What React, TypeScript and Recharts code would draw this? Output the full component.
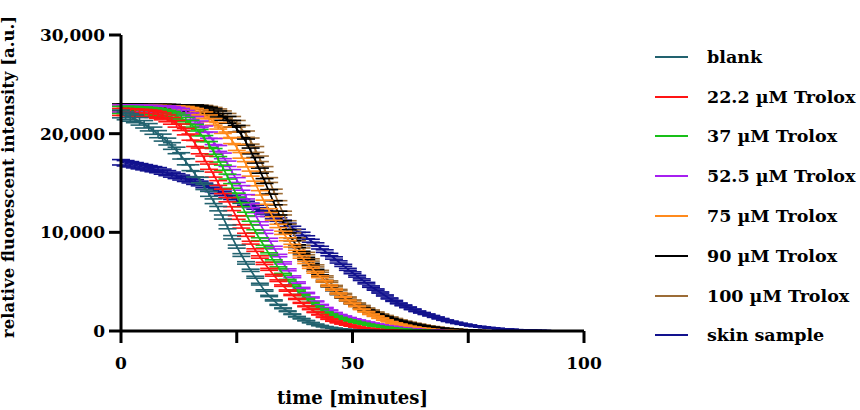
import React from 'react';
import { LineChart, Line, XAxis, YAxis, ErrorBar } from 'recharts';

const minutes = [
  0, 1, 2, 3, 4, 5, 6, 7, 8, 9, 10, 11, 12, 13, 14, 15, 16, 17, 18, 19,
  20, 21, 22, 23, 24, 25, 26, 27, 28, 29, 30, 31, 32, 33, 34, 35, 36, 37, 38, 39,
  40, 41, 42, 43, 44, 45, 46, 47, 48, 49, 50, 51, 52, 53, 54, 55, 56, 57, 58, 59,
  60, 61, 62, 63, 64, 65, 66, 67, 68, 69, 70, 71, 72, 73, 74, 75, 76, 77, 78, 79,
  80, 81, 82, 83, 84, 85, 86, 87, 88, 89, 90, 91, 92, 93, 94, 95, 96, 97, 98, 99, 100,
];

const blank = [
  22000, 21800, 21650, 21500, 21250, 20950, 20650, 20300, 19950, 19600,
  19200, 18750, 18300, 17750, 17150, 16550, 15900, 15300, 14600, 13900,
  13150, 12400, 11550, 10550, 9500, 8550, 7700, 6900, 6150, 5450,
  4750, 4100, 3550, 3100, 2650, 2300, 2000, 1700, 1450, 1250,
  1050, 850, 680, 550, 440, 350, 280, 220, 170, 130,
  100, 80, 60, 45, 35, 25, 15, 10, 5, 0,
  0, 0, 0, 0, 0, 0, 0, 0, 0, 0,
  0, 0, 0, 0, 0, 0, 0, 0, 0, 0,
  0, 0, 0, 0, 0, 0, 0, 0, 0, 0,
  0, 0, 0, 0, 0, 0, 0, 0, 0, 0, 0,
];

const trolox22 = [
  22200, 22200, 22150, 22150, 22100, 22100, 22050, 22000, 21900, 21750,
  21550, 21300, 21000, 20650, 20200, 19650, 19000, 18250, 17450, 16650,
  15850, 15000, 14150, 13300, 12400, 11500, 10600, 9750, 8950, 8200,
  7500, 6850, 6250, 5650, 5100, 4600, 4100, 3650, 3250, 2850,
  2500, 2200, 1900, 1650, 1400, 1200, 1000, 850, 720, 600,
  500, 400, 320, 260, 200, 150, 110, 80, 60, 40,
  30, 20, 10, 5, 0, 0, 0, 0, 0, 0,
  0, 0, 0, 0, 0, 0, 0, 0, 0, 0,
  0, 0, 0, 0, 0, 0, 0, 0, 0, 0,
  0, 0, 0, 0, 0, 0, 0, 0, 0, 0, 0,
];

const trolox37 = [
  22400, 22400, 22400, 22400, 22350, 22350, 22300, 22250, 22200, 22100,
  22000, 21900, 21750, 21550, 21300, 21000, 20600, 20100, 19500, 18900,
  18200, 17400, 16550, 15650, 14700, 13750, 12800, 11850, 10950, 10100,
  9300, 8550, 7800, 7100, 6400, 5750, 5150, 4600, 4100, 3650,
  3250, 2850, 2500, 2200, 1900, 1700, 1500, 1350, 1200, 1100,
  980, 870, 770, 680, 590, 510, 440, 370, 310, 260,
  210, 170, 130, 100, 75, 55, 40, 25, 15, 8,
  0, 0, 0, 0, 0, 0, 0, 0, 0, 0,
  0, 0, 0, 0, 0, 0, 0, 0, 0, 0,
  0, 0, 0, 0, 0, 0, 0, 0, 0, 0, 0,
];

const trolox52 = [
  22550, 22550, 22550, 22550, 22500, 22500, 22500, 22500, 22450, 22450,
  22450, 22400, 22300, 22200, 22000, 21750, 21400, 20950, 20450, 19850,
  19200, 18500, 17750, 16950, 16100, 15300, 14500, 13600, 12700, 11800,
  10900, 10050, 9250, 8450, 7650, 6900, 6200, 5500, 4900, 4350,
  3850, 3400, 3000, 2650, 2350, 2100, 1850, 1650, 1500, 1350,
  1220, 1100, 990, 890, 790, 700, 610, 530, 460, 390,
  330, 280, 230, 190, 150, 120, 90, 70, 50, 35,
  25, 15, 10, 5, 0, 0, 0, 0, 0, 0,
  0, 0, 0, 0, 0, 0, 0, 0, 0, 0,
  0, 0, 0, 0, 0, 0, 0, 0, 0, 0, 0,
];

const trolox75 = [
  22550, 22550, 22550, 22550, 22550, 22500, 22500, 22500, 22500, 22500,
  22450, 22450, 22450, 22400, 22400, 22300, 22200, 22050, 21850, 21550,
  21200, 20800, 20350, 19850, 19300, 18600, 17800, 16900, 15950, 14950,
  14000, 13050, 12200, 11400, 10650, 9950, 9300, 8650, 8050, 7500,
  6950, 6450, 5950, 5500, 5050, 4600, 4200, 3800, 3450, 3100,
  2800, 2500, 2200, 1950, 1700, 1500, 1300, 1100, 950, 800,
  680, 570, 470, 390, 320, 260, 210, 160, 120, 90,
  70, 50, 35, 25, 15, 10, 5, 0, 0, 0,
  0, 0, 0, 0, 0, 0, 0, 0, 0, 0,
  0, 0, 0, 0, 0, 0, 0, 0, 0, 0, 0,
];

const trolox90 = [
  22650, 22650, 22650, 22650, 22650, 22600, 22600, 22600, 22600, 22600,
  22600, 22600, 22550, 22550, 22550, 22550, 22550, 22500, 22400, 22300,
  22150, 21950, 21700, 21400, 21000, 20500, 19900, 19150, 18250, 17300,
  16250, 15200, 14100, 13000, 11950, 11000, 10100, 9300, 8600, 7950,
  7350, 6750, 6150, 5600, 5050, 4550, 4150, 3750, 3400, 3100,
  2800, 2550, 2300, 2100, 1900, 1700, 1550, 1400, 1250, 1100,
  980, 870, 770, 680, 590, 510, 440, 380, 320, 270,
  220, 180, 150, 120, 90, 70, 50, 35, 25, 15,
  10, 5, 0, 0, 0, 0, 0, 0, 0, 0,
  0, 0, 0, 0, 0, 0, 0, 0, 0, 0, 0,
];

const trolox100 = [
  22600, 22600, 22600, 22600, 22600, 22600, 22600, 22600, 22600, 22600,
  22600, 22550, 22550, 22550, 22550, 22550, 22550, 22500, 22500, 22400,
  22300, 22150, 21950, 21700, 21400, 21000, 20500, 19950, 19250, 18400,
  17450, 16400, 15300, 14150, 13000, 11950, 11000, 10100, 9300, 8550,
  7850, 7200, 6600, 6050, 5500, 5000, 4550, 4150, 3750, 3400,
  3100, 2800, 2550, 2300, 2100, 1900, 1700, 1550, 1400, 1250,
  1100, 980, 870, 770, 680, 590, 510, 440, 380, 320,
  270, 220, 180, 150, 120, 90, 70, 50, 35, 25,
  15, 10, 5, 0, 0, 0, 0, 0, 0, 0,
  0, 0, 0, 0, 0, 0, 0, 0, 0, 0, 0,
];

const skinSample = [
  17100, 17000, 16900, 16800, 16700, 16600, 16500, 16400, 16300, 16150,
  16000, 15850, 15700, 15550, 15400, 15250, 15100, 14950, 14750, 14550,
  14350, 14150, 13950, 13750, 13550, 13350, 13150, 12950, 12750, 12550,
  12300, 12050, 11800, 11550, 11300, 11050, 10750, 10450, 10150, 9850,
  9500, 9150, 8800, 8450, 8100, 7750, 7400, 7000, 6650, 6250,
  5900, 5550, 5200, 4850, 4500, 4200, 3900, 3600, 3300, 3050,
  2800, 2600, 2400, 2200, 2000, 1850, 1700, 1550, 1400, 1250,
  1100, 980, 870, 770, 680, 600, 520, 460, 400, 350,
  300, 260, 220, 190, 160, 130, 110, 90, 75, 60,
  50, 40, 30, 25, 20, 15, 10, 8, 5, 3, 0,
];

const seriesKeys = ['blank', 't22', 't37', 't52', 't75', 't90', 't100', 'skin'];
const seriesNames = [
  'blank',
  '22.2 \u00b5M Trolox',
  '37 \u00b5M Trolox',
  '52.5 \u00b5M Trolox',
  '75 \u00b5M Trolox',
  '90 \u00b5M Trolox',
  '100 \u00b5M Trolox',
  'skin sample',
];
const seriesColors = ['#22626f', '#ff1414', '#18bf18', '#a61ff0', '#ff8a1c', '#000000', '#9c6c36', '#12128e'];
const seriesValues = [blank, trolox22, trolox37, trolox52, trolox75, trolox90, trolox100, skinSample];
// relative standard deviation of each series (error bars)
const seriesRSD = [0.018, 0.016, 0.016, 0.016, 0.016, 0.016, 0.016, 0.016];

const xTicks = [0, 25, 50, 75, 100];
const xLabelled = [0, 50, 100];
const yTicks = [0, 10000, 20000, 30000];

const rows = minutes.map((t, i) => {
  const r: Record<string, number> = { t };
  seriesKeys.forEach((k, j) => {
    r[k] = seriesValues[j][i];
    r[k + 'Err'] = Math.round(seriesValues[j][i] * seriesRSD[j]);
  });
  return r;
});

const FONT = '"DejaVu Serif", serif';

export default function App() {
  const drawOrder = seriesKeys.map((_, i) => i).reverse();
  return (
    <div style={{ position: 'absolute', left: 0, top: 0, width: 860, height: 410, background: '#fff', fontFamily: FONT }}>
      <LineChart
        width={860}
        height={410}
        data={rows}
        margin={{ top: 35, right: 276, bottom: 0, left: 0 }}
      >
        <XAxis
          dataKey="t"
          type="number"
          domain={[0, 100]}
          ticks={xTicks}
          interval={0}
          tickFormatter={(v: number) => (xLabelled.includes(v) ? String(v) : '')}
          height={79}
          tickSize={12}
          tickMargin={14}
          axisLine={{ stroke: '#000', strokeWidth: 3 }}
          tickLine={{ stroke: '#000', strokeWidth: 3 }}
          tick={{ fill: '#000', fontSize: 17, fontWeight: 700, fontFamily: FONT }}
          label={{
            value: 'time [minutes]',
            position: 'insideBottom',
            offset: 6,
            fill: '#000',
            fontSize: 18,
            fontWeight: 700,
            fontFamily: FONT,
          }}
        />
        <YAxis
          type="number"
          domain={[0, 30000]}
          ticks={yTicks}
          interval={0}
          allowDataOverflow
          width={121}
          tickSize={12}
          tickMargin={4}
          tickFormatter={(v: number) => v.toLocaleString('en-US')}
          axisLine={{ stroke: '#000', strokeWidth: 3 }}
          tickLine={{ stroke: '#000', strokeWidth: 3 }}
          tick={{ fill: '#000', fontSize: 17, fontWeight: 700, fontFamily: FONT }}
          label={{
            value: 'relative fluorescent intensity [a.u.]',
            angle: -90,
            position: 'insideLeft',
            offset: 8,
            dy: -6,
            fill: '#000',
            fontSize: 16.5,
            fontWeight: 700,
            fontFamily: FONT,
            style: { textAnchor: 'middle' },
          }}
        />
        {drawOrder.map((i) => (
          <Line
            key={seriesKeys[i]}
            dataKey={seriesKeys[i]}
            name={seriesNames[i]}
            stroke={seriesColors[i]}
            strokeWidth={1.7}
            dot={false}
            activeDot={false}
            isAnimationActive={false}
            type="linear"
          >
            <ErrorBar
              dataKey={seriesKeys[i] + 'Err'}
              direction="y"
              width={9}
              stroke={seriesColors[i]}
              strokeWidth={1.6}
              isAnimationActive={false}
            />
          </Line>
        ))}
      </LineChart>
      <div style={{ position: 'absolute', left: 655, top: 37, width: 205 }}>
        {seriesNames.map((n, i) => (
          <div key={n} style={{ height: 39.8, display: 'flex', alignItems: 'center' }}>
            <div style={{ width: 33, height: 2, background: seriesColors[i] }} />
            <span style={{ marginLeft: 19, fontSize: 17.5, fontWeight: 700, color: '#000', whiteSpace: 'nowrap' }}>{n}</span>
          </div>
        ))}
      </div>
    </div>
  );
}
